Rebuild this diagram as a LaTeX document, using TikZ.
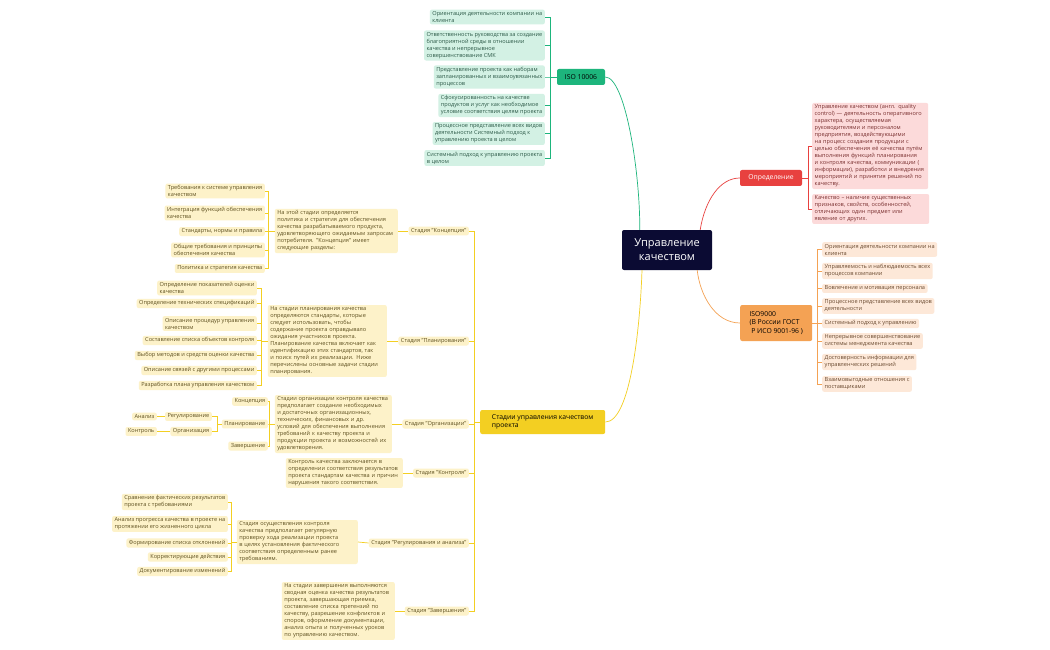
\documentclass[tikz,border=0pt]{standalone}
\usepackage{fontspec}
\setmainfont{Open Sans}
\definecolor{cG}{HTML}{1DB57C}\definecolor{lG}{HTML}{D3F1E4}
\definecolor{cR}{HTML}{E8413F}\definecolor{lR}{HTML}{FCDADA}
\definecolor{cO}{HTML}{F4A254}\definecolor{lO}{HTML}{FDE8D8}
\definecolor{cY}{HTML}{F3CF22}\definecolor{lY}{HTML}{FDF2C9}
\definecolor{tG}{HTML}{2D5A48}\definecolor{tR}{HTML}{7A3030}\definecolor{tO}{HTML}{6A4A30}\definecolor{tY}{HTML}{5E5020}
\definecolor{navy}{HTML}{0B0B33}
\begin{document}
\begin{tikzpicture}[x=1pt,y=-1pt,
  leaf/.style={rounded corners=2pt,inner xsep=2.5pt,inner ysep=1.8pt,align=left,font=\fontsize{5.6}{7}\selectfont},
  bg/.style={leaf,fill=lG,text=tG},
  br/.style={leaf,fill=lR,text=tR},
  bo/.style={leaf,fill=lO,text=tO},
  by/.style={leaf,fill=lY,text=tY},
  lg/.style={cG,line width=0.7pt},
  lr/.style={cR,line width=0.7pt},
  lo/.style={cO,line width=0.7pt},
  ly/.style={cY,line width=0.7pt},
  main/.style={rounded corners=2pt,align=left,inner sep=3pt,font=\fontsize{6.8}{8.2}\selectfont}]
\useasboundingbox (0,0) rectangle (1050,650);
\fill[white] (0,0) rectangle (1050,650);
% central
\node[fill=navy,text=white,rounded corners=2pt,align=center,minimum width=90pt,minimum height=40pt,font=\fontsize{11}{14}\selectfont] (c) at (667,250) {Управление\\качеством};
% main branches
\node[main,fill=cG,text=black,minimum width=48pt,minimum height=16pt,align=center] (iso) at (581,77) {ISO 10006};
\node[main,fill=cR,text=white,minimum width=62pt,minimum height=16pt,align=center] (def) at (771,178) {Определение};
\node[main,fill=cO,text=black,minimum width=72pt,minimum height=36pt,anchor=west] (iso9) at (740,323) {ISO9000\\(В России ГОСТ\\\ Р ИСО 9001-96 )};
\node[main,fill=cY,text=black,minimum width=125pt,minimum height=24pt,anchor=west] (st) at (480,422) {Стадии управления качеством\\проекта};
\draw[lg] (iso.east) .. controls (625,77) and (640,170) .. ([xshift=18pt]c.north west);
\draw[lr] (def.west) .. controls (720,178) and (705,200) .. ([xshift=-12pt]c.north east);
\draw[lo] (iso9.west) .. controls (715,323) and (700,295) .. ([xshift=-15pt]c.south east);
\draw[ly] (st.east) .. controls (630,422) and (640,330) .. ([xshift=-25pt]c.south);
% ISO 10006 children
\node[bg,anchor=east] (g1) at (545,17) {Ориентация деятельности компании на\\клиента};
\node[bg,anchor=east] (g2) at (545,45.5) {Ответственность руководства за создание\\благоприятной  среды в отношении\\качества и непрерывное\\совершенствование СМК};
\node[bg,anchor=east] (g3) at (545,77) {Представление проекта как наборам\\запланированных и взаимоувязанных\\процессов};
\node[bg,anchor=east] (g4) at (545,105.5) {Сфокусированность на качестве\\продуктов  и услуг как необходимое\\условие соответствия целям проекта};
\node[bg,anchor=east] (g5) at (545,133.5) {Процессное представление всех видов\\деятельности Системный подход к\\управлению проекта в целом};
\node[bg,anchor=east] (g6) at (545,158) {Системный подход к управлению проекта\\в целом};
\foreach \n in {g1,g2,g3,g4,g5,g6} \draw[lg] (\n.east) -| ([xshift=-6pt]iso.west) -- (iso.west);
% Definition
\node[br,anchor=west,text width=111pt] (r1) at (812,146) {Управление качеством (англ. quality control) — деятельность оперативного характера, осуществляемая руководителями и персоналом предприятия, воздействующими на процесс создания продукции с целью обеспечения её качества путём выполнения функций планирования и контроля качества, коммуникации ( информации), разработки и внедрения мероприятий и принятия решений по качеству.};
\node[br,anchor=west,text width=112pt] (r2) at (812,209) {Качество – наличие существенных признаков, свойств, особенностей, отличающих один предмет или явление от других.};
\foreach \n in {r1,r2} \draw[lr] (\n.west) -| ([xshift=6pt]def.east) -- (def.east);
% ISO9000
\node[bo,anchor=west] (o1) at (822,249.5) {Ориентация деятельности  компании на\\клиента};
\node[bo,anchor=west] (o2) at (822,271) {Управляемость и наблюдаемость  всех\\процессов компании};
\node[bo,anchor=west] (o3) at (822,288.5) {Вовлечение и мотивация персонала};
\node[bo,anchor=west] (o4) at (822,306) {Процессное представление всех видов\\деятельности};
\node[bo,anchor=west] (o5) at (822,323.5) {Системный подход к управлению};
\node[bo,anchor=west] (o6) at (822,341) {Непрерывное совершенствование\\системы менеджмента качества};
\node[bo,anchor=west] (o7) at (822,362) {Достоверность информации  для\\управленческих решений};
\node[bo,anchor=west] (o8) at (822,384) {Взаимовыгодные отношения с\\поставщиками};
\foreach \n in {o1,o2,o3,o4,o5,o6,o7,o8} \draw[lo] (\n.west) -| ([xshift=5pt]iso9.east) -- (iso9.east);
% stage labels
\coordinate (sp) at (474,422);
\draw[ly] (st.west) -- (sp);
\node[by,anchor=east] (s1) at (469,231) {Стадия "Концепция"};
\node[by,anchor=east] (s2) at (469,341) {Стадия "Планирования"};
\node[by,anchor=east] (s3) at (469,424) {Стадия "Организации"};
\node[by,anchor=east] (s4) at (469,473) {Стадия "Контроля"};
\node[by,anchor=east] (s5) at (469,543) {Стадия "Регулирования и анализа"};
\node[by,anchor=east] (s6) at (469,611) {Стадия "Завершения"};
\foreach \n in {s1,s2,s3,s4,s5,s6} \draw[ly] (\n.east) -| (sp);
% descriptions
\node[by,anchor=east,text width=118pt] (d1) at (398,231) {На этой стадии определяется политика и стратегия для обеспечения качества разрабатываемого продукта, удовлетворяющего ожидаемым запросам потребителя. "Концепция" имеет следующие разделы:};
\node[by,anchor=east,text width=114pt] (d2) at (387,341) {На стадии планирования качества определяются стандарты, которые следует использовать, чтобы содержание проекта оправдывало ожидания участников проекта. Планирование качества включает как идентификацию этих стандартов, так и поиск путей их реализации. Ниже перечислены основные задачи стадии планирования.};
\node[by,anchor=east,text width=112pt] (d3) at (392,424) {Стадии организации контроля качества предполагает создание необходимых и достаточных организационных, технических, финансовых и др. условий для обеспечения выполнения требований к качеству проекта и продукции проекта и возможностей их удовлетворения.};
\node[by,anchor=east,text width=112pt] (d4) at (403,473) {Контроль качества заключается в определении соответствия результатов проекта стандартам качества и причин нарушения такого соответствия.};
\node[by,anchor=east,text width=116pt] (d5) at (358,542) {Стадия осуществления контроля качества предполагает регулярную проверку хода реализации проекта в целях установления фактического соответствия определенным ранее требованиям.};
\node[by,anchor=east,text width=108pt] (d6) at (395,611) {На стадии завершения выполняются сводная оценка качества результатов проекта, завершающая приемка, составление списка претензий по качеству, разрешение конфликтов и споров, оформление документации, анализ опыта и полученных уроков по управлению качеством.};
\foreach \a/\b in {s1/d1,s2/d2,s3/d3,s4/d4,s5/d5,s6/d6} \draw[ly] (\a.west) -- (\b.east);
% Концепция children
\node[by,anchor=east] (k1) at (265,191) {Требования к системе управления\\качеством};
\node[by,anchor=east] (k2) at (265,213) {Интеграция функций обеспечения\\качества};
\node[by,anchor=east] (k3) at (265,231.5) {Стандарты, нормы и правила};
\node[by,anchor=east] (k4) at (265,250) {Общие требования и принципы\\обеспечения качества};
\node[by,anchor=east] (k5) at (265,268.5) {Политика и стратегия качества};
\foreach \n in {k1,k2,k3,k4,k5} \draw[ly] (\n.east) -| ([xshift=-6pt]d1.west) -- (d1.west);
% Планирование children
\node[by,anchor=east] (p1) at (257,288) {Определение показателей оценки\\качества};
\node[by,anchor=east] (p2) at (257,303.5) {Определение технических спецификаций};
\node[by,anchor=east] (p3) at (257,323.5) {Описание процедур управления\\качеством};
\node[by,anchor=east] (p4) at (257,340.5) {Составление списка объектов контроля};
\node[by,anchor=east] (p5) at (257,355.5) {Выбор методов и средств оценки качества};
\node[by,anchor=east] (p6) at (257,370.5) {Описание связей с другими процессами};
\node[by,anchor=east] (p7) at (257,385.5) {Разработка плана управления качеством};
\foreach \n in {p1,p2,p3,p4,p5,p6,p7} \draw[ly] (\n.east) -| ([xshift=-6pt]d2.west) -- (d2.west);
% Организации children
\node[by,anchor=east] (q1) at (268,401.5) {Концепция};
\node[by,anchor=east] (q2) at (268,424) {Планирование};
\node[by,anchor=east] (q3) at (268,446) {Завершение};
\foreach \n in {q1,q2,q3} \draw[ly] (\n.east) -| ([xshift=-5pt]d3.west) -- (d3.west);
\node[by,anchor=east] (q21) at (212,416.5) {Регулирование};
\node[by,anchor=east] (q22) at (212,431.5) {Организация};
\foreach \n in {q21,q22} \draw[ly] (\n.east) -| ([xshift=-4pt]q2.west) -- (q2.west);
\node[by,anchor=east] (q211) at (157,416.5) {Анализ};
\node[by,anchor=east] (q221) at (157,431.5) {Контроль};
\draw[ly] (q21.west) -- (q211.east);
\draw[ly] (q22.west) -- (q221.east);
% Регулирования children
\node[by,anchor=east] (a1) at (228,502) {Сравнение фактических результатов\\проекта с требованиями};
\node[by,anchor=east] (a2) at (228,524) {Анализ прогресса качества в проекте на\\протяжении его жизненного цикла};
\node[by,anchor=east] (a3) at (228,543) {Формирование списка отклонений};
\node[by,anchor=east] (a4) at (228,557) {Корректирующие действия};
\node[by,anchor=east] (a5) at (228,571.5) {Документирование изменений};
\foreach \n in {a1,a2,a3,a4,a5} \draw[ly] (\n.east) -| ([xshift=-5pt]d5.west) -- (d5.west);
\end{tikzpicture}
\end{document}
